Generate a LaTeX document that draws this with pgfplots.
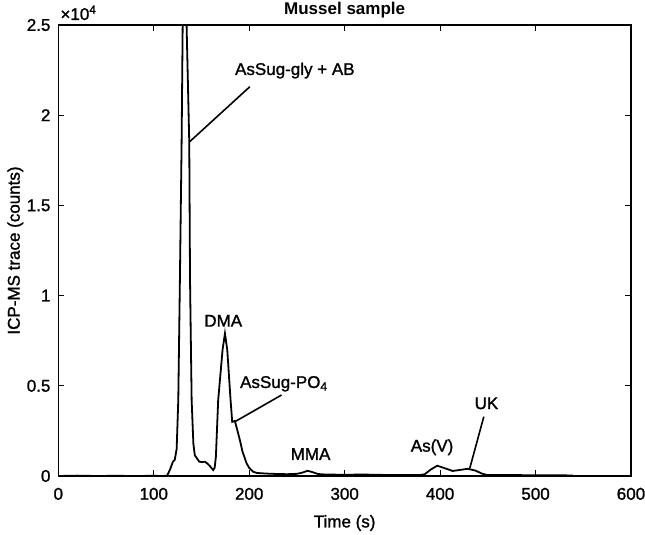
\documentclass[border=0pt]{standalone}
\usepackage{pgfplots}
\pgfplotsset{compat=1.18}
\usepackage{fontspec}
\setmainfont{Liberation Sans}
\newfontfamily\heavy{Liberation Sans}[FakeBold=1.3]
\begin{document}
\fontsize{17bp}{20bp}\selectfont\heavy
\begin{tikzpicture}
\begin{axis}[
  name=ax,
  at={(58.3bp,59bp)}, anchor=south west,
  scale only axis, width=572.7bp, height=451bp,
  xmin=0, xmax=600, ymin=0, ymax=25000,
  xtick={0,100,...,600},
  ytick={0,5000,10000,15000,20000,25000},
  yticklabels={0,0.5,1,1.5,2,2.5},
  scaled y ticks=false,
  tick align=inside, major tick length=6bp,
  axis line style={line width=1.2bp},
  every tick/.style={line width=1.1bp, black},
  /pgf/number format/assume math mode=true,
  tick label style={font=\fontsize{17bp}{20bp}\selectfont\heavy},
  xticklabel style={yshift=-6bp},
  yticklabel style={xshift=-2bp},
  clip mode=individual,
]
\addplot[black, line width=1.8bp] coordinates {
(0,0) (20,20) (40,0) (60,10) (80,0) (100,10) (110,0) (114,20) (117,350) (120,780) (122,900) (124,1500)
(125.7,4200) (127.4,10900) (129.2,18500) (130.3,25000) (132.5,28000) (134.4,25000) (137.2,18500) (138,10900)
(139.7,4200) (141.5,1800) (143,1150) (145,1000) (147.6,800) (150,770) (153.6,790) (156,700) (158.8,550)
(162.3,330) (163.8,450) (165.1,1070) (167.5,4200) (172.1,7000) (174.6,7900) (177,7000) (180.5,4200)
(182.2,3000) (185,3050) (187.5,2550) (190.2,2000) (193,1350) (197.3,700) (200,450) (204,240) (208,170)
(213,150) (220,130) (230,110) (240,100) (250,120) (256,190) (261,290) (266,220) (272,110) (280,80)
(300,70) (320,80) (340,60) (360,60) (380,60) (384,100) (390,350) (397,570) (405,430) (413,280)
(420,330) (429,400) (437,300) (444,130) (449,60) (460,50) (480,50) (500,40) (520,40) (539,30)
};
\draw[line width=1.6bp] (axis cs:200.7,21580) -- (axis cs:137.6,18530);
\draw[line width=1.6bp] (axis cs:233.9,4490) -- (axis cs:185,3010);
\draw[line width=1.6bp] (axis cs:445.8,3290) -- (axis cs:431.1,430);
\node[anchor=base west, inner sep=0] at (axis cs:185,22230) {AsSug-gly + AB};
\node[anchor=base, inner sep=0] at (axis cs:172.8,8280) {DMA};
\node[anchor=base west, inner sep=0] at (axis cs:190.3,4880) {AsSug-PO\textsubscript{4}};
\node[anchor=base, inner sep=0] at (axis cs:264.3,890) {MMA};
\node[anchor=base, inner sep=0] at (axis cs:391.6,1350) {As(V)};
\node[anchor=base, inner sep=0] at (axis cs:448.6,3710) {UK};
\end{axis}
\node[anchor=base, inner sep=0, font=\normalfont\bfseries\fontsize{17bp}{20bp}\selectfont] at ([yshift=10bp]ax.north) {Mussel sample};
\node[anchor=base west, inner sep=0] at ([xshift=2bp,yshift=5bp]ax.north west) {×10\textsuperscript{4}};
\node[anchor=center, inner sep=0] at ([yshift=-47bp]ax.south) {Time (s)};
\node[anchor=center, inner sep=0, rotate=90] at ([xshift=-43bp]ax.west) {ICP-MS trace (counts)};
\pgfresetboundingbox
\useasboundingbox (0,0) rectangle (645bp,535bp);
\end{tikzpicture}
\end{document}
